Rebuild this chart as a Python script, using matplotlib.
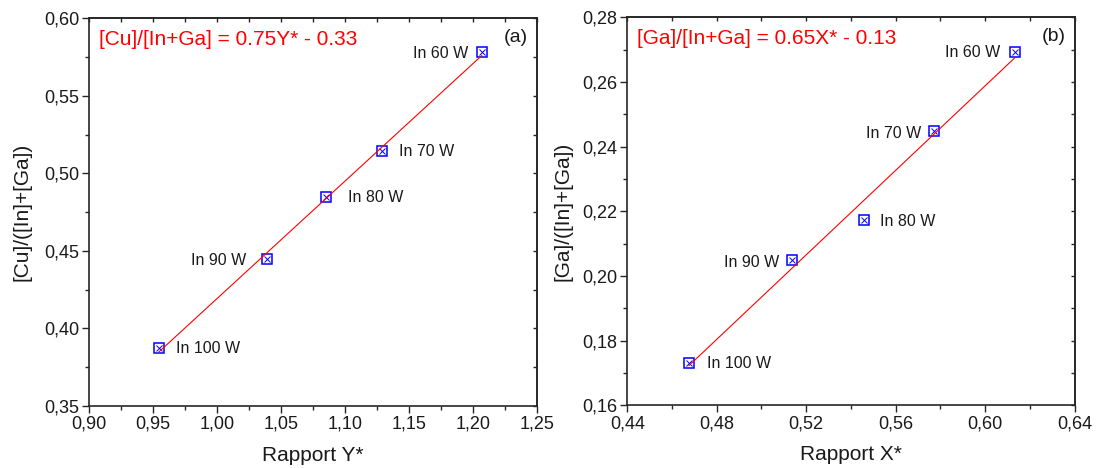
import numpy as np
import matplotlib
matplotlib.use("Agg")
import matplotlib.pyplot as plt

plt.rcParams['font.family'] = ['Liberation Sans', 'DejaVu Sans']

# sample labels (sputtering power of the In target)
power_labels = ['In 100 W', 'In 90 W', 'In 80 W', 'In 70 W', 'In 60 W']

# panel (a): Cu/(In+Ga) versus Y*
rapport_y = [0.9545, 1.039, 1.085, 1.1287, 1.207]
cu_ratio = [0.3876, 0.4447, 0.485, 0.5147, 0.578]
eq_a = '[Cu]/[In+Ga] = 0.75Y* - 0.33'

# panel (b): Ga/(In+Ga) versus X*
rapport_x = [0.4676, 0.5135, 0.5459, 0.5772, 0.6132]
ga_ratio = [0.1732, 0.2048, 0.2173, 0.2448, 0.2693]
eq_b = '[Ga]/[In+Ga] = 0.65X* - 0.13'

# axis ticks
xticks_a = [0.90, 0.95, 1.00, 1.05, 1.10, 1.15, 1.20, 1.25]
yticks_a = [0.35, 0.40, 0.45, 0.50, 0.55, 0.60]
xticks_b = [0.44, 0.48, 0.52, 0.56, 0.60, 0.64]
yticks_b = [0.16, 0.18, 0.20, 0.22, 0.24, 0.26, 0.28]

# label offsets in pixels (dx, dy) and alignment
offs_a = [(17, -1), (-21, -1), (22, -1), (17, -1), (-13, -1)]
ha_a = ['left', 'right', 'left', 'left', 'right']
offs_b = [(18, -1), (-12, -2), (16, -1), (-13, -2), (-14, -1)]
ha_b = ['left', 'right', 'left', 'right', 'right']

frame_col = '#262626'


def comma(v):
    # french decimal separator
    return ('%.2f' % v).replace('.', ',')


def draw_panel(ax, xs, ys, xticks, yticks, xlabel, ylabel, eq, tag, offs, has, ylab_x):
    # fitted straight line (drawn between the extreme points)
    p = np.polyfit(xs, ys, 1)
    xf = np.array([min(xs), max(xs)])
    ax.plot(xf, np.polyval(p, xf), color='red', lw=0.8, zorder=4)

    # boxed-cross markers
    ax.plot(xs, ys, ls='none', marker='s', ms=6.5, mfc='white', mec='blue', mew=1.1, zorder=3)
    ax.plot(xs, ys, ls='none', marker='x', ms=5, mec='blue', mew=0.7, zorder=3)

    for x, y, lab, o, h in zip(xs, ys, power_labels, offs, has):
        ax.annotate(lab, (x, y), xytext=o, textcoords='offset pixels',
                    ha=h, va='center', fontsize=11.5, color='#1a1a1a')

    ax.set_xlim(xticks[0], xticks[-1])
    ax.set_ylim(yticks[0], yticks[-1])
    ax.set_xticks(xticks)
    ax.set_yticks(yticks)
    ax.set_xticklabels([comma(v) for v in xticks])
    ax.set_yticklabels([comma(v) for v in yticks])
    dx = (xticks[1] - xticks[0]) / 2
    dy = (yticks[1] - yticks[0]) / 2
    ax.set_xticks(np.arange(xticks[0] + dx, xticks[-1], 2 * dx), minor=True)
    ax.set_yticks(np.arange(yticks[0] + dy, yticks[-1], 2 * dy), minor=True)
    ax.tick_params(which='major', direction='out', length=5, width=1, color=frame_col,
                   labelsize=13, pad=2, labelcolor='#1a1a1a')
    ax.tick_params(which='minor', direction='out', length=3, width=1, color=frame_col)

    # inward ticks on top and right
    all_x = np.arange(xticks[0], xticks[-1] + dx / 2, dx)
    all_y = np.arange(yticks[0], yticks[-1] + dy / 2, dy)
    top = ax.secondary_xaxis('top')
    top.set_xticks(all_x)
    top.tick_params(direction='in', length=3, width=1, color=frame_col,
                    labeltop=False, labelbottom=False)
    top.spines['top'].set_color(frame_col)
    top.spines['top'].set_linewidth(1.2)
    right = ax.secondary_yaxis('right')
    right.set_yticks(all_y)
    right.tick_params(direction='in', length=3, width=1, color=frame_col,
                      labelright=False, labelleft=False)
    right.spines['right'].set_color(frame_col)
    right.spines['right'].set_linewidth(1.2)

    for s in ax.spines.values():
        s.set_color(frame_col)
        s.set_linewidth(1.2)

    ax.set_xlabel(xlabel, fontsize=15, color='#1a1a1a')
    ax.set_ylabel(ylabel, fontsize=15, color='#1a1a1a')
    ax.xaxis.set_label_coords(0.5, -0.103)
    ax.yaxis.set_label_coords(ylab_x, 0.5)

    ax.text(0.022, 0.946, eq, transform=ax.transAxes, color='red', fontsize=15,
            ha='left', va='center')
    ax.text(0.954, 0.95, tag, transform=ax.transAxes, color='#1a1a1a', fontsize=14,
            ha='center', va='center')


fig = plt.figure(figsize=(10.97, 4.68), dpi=100)
ax1 = fig.add_axes([0.0814, 0.1325, 0.4078, 0.8284])
ax2 = fig.add_axes([0.5718, 0.134, 0.4078, 0.829])

draw_panel(ax1, rapport_y, cu_ratio, xticks_a, yticks_a, 'Rapport Y*',
           '[Cu]/([In]+[Ga])', eq_a, '(a)', offs_a, ha_a, -0.13)
draw_panel(ax2, rapport_x, ga_ratio, xticks_b, yticks_b, 'Rapport X*',
           '[Ga]/([In]+[Ga])', eq_b, '(b)', offs_b, ha_b, -0.123)

fig.savefig('out.png', dpi=100)
